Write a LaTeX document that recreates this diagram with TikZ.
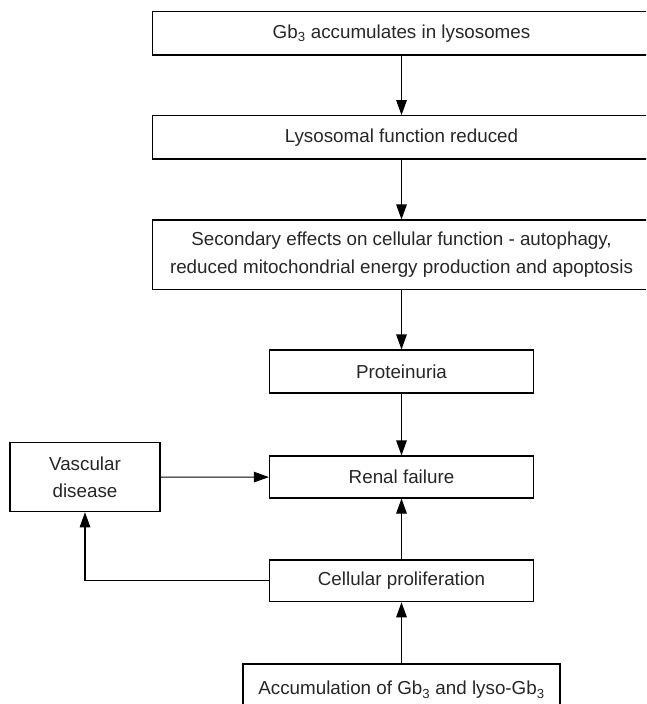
\documentclass[tikz,border=0pt]{standalone}
\usepackage{fontspec}
\setmainfont{Liberation Sans}
\usetikzlibrary{arrows.meta}
\begin{document}
\begin{tikzpicture}[x=1pt,y=-1pt,
  box/.style={draw=black, line width=1.1pt, inner sep=0pt, align=center,
    font=\fontsize{18.8}{28.3}\selectfont, text=black!85},
  conn/.style={line width=1.1pt, -{Triangle[length=15pt,width=10.5pt]}}]
\useasboundingbox (0,0) rectangle (646,704);
\clip (0,0) rectangle (646,704);
\node[box, minimum width=497.6pt, minimum height=43.3pt] (b1) at (401.5,33.35) {Gb\textsubscript{3} accumulates in lysosomes};
\node[box, minimum width=497.6pt, minimum height=43.3pt] (b2) at (401.5,137.35) {Lysosomal function reduced};
\node[box, minimum width=497.6pt, minimum height=69.3pt] (b3) at (401.5,254.65) {Secondary effects on cellular function - autophagy,\\reduced mitochondrial energy production and apoptosis};
\node[box, minimum width=264pt, minimum height=43pt] (prot) at (401.5,371.5) {Proteinuria};
\node[box, minimum width=264pt, minimum height=42pt] (renal) at (401.5,477) {Renal failure};
\node[box, minimum width=150pt, minimum height=69pt, font=\fontsize{18.8}{26.7}\selectfont] (vasc) at (85,477.2) {Vascular\\disease};
\node[box, minimum width=264pt, minimum height=41.7pt] (cell) at (401.5,580.85) {Cellular proliferation};
\node[box, minimum width=317pt, minimum height=52pt] (acc) at (401.5,690) {Accumulation of Gb\textsubscript{3} and lyso-Gb\textsubscript{3}};
\draw[conn] (b1) -- (b2);
\draw[conn] (b2) -- (b3);
\draw[conn] (b3) -- (prot);
\draw[conn] (prot) -- (renal);
\draw[conn] (vasc) -- (renal);
\draw[conn] (cell) -- (renal);
\draw[conn] (cell.west) -| (vasc.south);
\draw[conn] (acc) -- (cell);
\end{tikzpicture}
\end{document}
